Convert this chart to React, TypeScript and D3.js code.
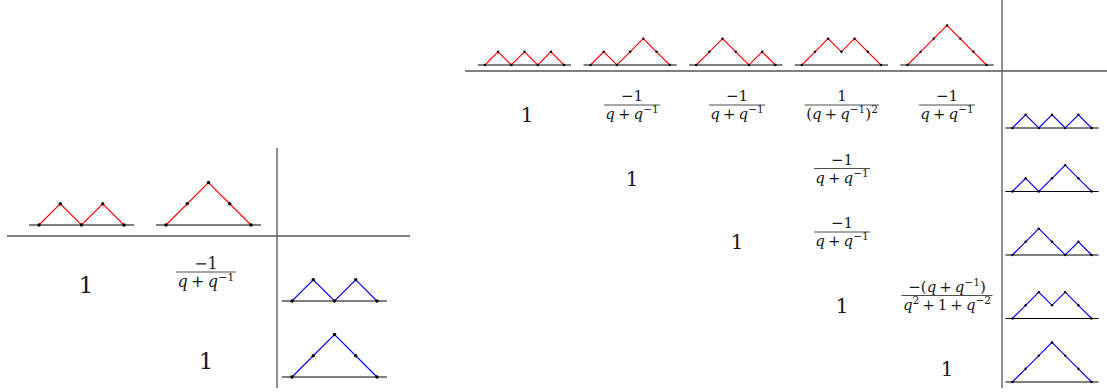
import React, { useLayoutEffect, useRef, useState } from 'react';
import * as d3 from 'd3';

// Dyck words (U = up step, D = down step)
const leftPaths = ['UDUD', 'UUDD'];
const rightPaths = ['UDUDUD', 'UDUUDD', 'UUDDUD', 'UUDUDD', 'UUUDDD'];

// matrix entries: '1', a fraction {num, den}, or null for empty
type Frac = { num: string; den: string };
type Entry = string | Frac | null;

const invQ: Frac = { num: '−1', den: 'q+q^{−1}' };
const invQ2: Frac = { num: '1', den: '(q+q^{−1})^{2}' };
const ratioQ: Frac = { num: '−(q+q^{−1})', den: 'q^{2}+1+q^{−2}' };

const leftEntries: Entry[][] = [
  ['1', invQ],
  [null, '1'],
];

const rightEntries: Entry[][] = [
  ['1', invQ, invQ, invQ2, invQ],
  [null, '1', null, invQ, null],
  [null, null, '1', invQ, null],
  [null, null, null, '1', ratioQ],
  [null, null, null, null, '1'],
];

const FONT = '"DejaVu Serif", "Liberation Serif", serif';

// "q+q^{-1}" -> tspans, superscripts raised, q in italic
const mathSpans = (src: string, size: number) => {
  const parts: { t: string; sup: boolean }[] = [];
  const re = /\^\{([^}]*)\}|[^^]+/g;
  let m;
  while ((m = re.exec(src)) !== null) {
    if (m[1] !== undefined) parts.push({ t: m[1], sup: true });
    else parts.push({ t: m[0], sup: false });
  }
  const supSize = size * 0.7;
  const rise = size * 0.38;
  const spans: React.ReactNode[] = [];
  let shifted = false;
  parts.forEach((p, i) => {
    const dy = p.sup ? -rise : shifted ? rise : 0;
    shifted = p.sup;
    const tokens = p.t.split(/(q)/).filter(s => s !== '');
    tokens.forEach((tok, j) => {
      const txt = tok.replace(/\+/g, p.sup ? '+' : '\u2009+\u2009');
      spans.push(
        <tspan
          key={i + '-' + j}
          dy={j === 0 ? dy : 0}
          fontSize={p.sup ? supSize : size}
          fontStyle={tok === 'q' ? 'italic' : 'normal'}
        >
          {txt}
        </tspan>
      );
    });
  });
  return spans;
};

const Fraction = ({ f, cx, bar, size, numGap, denGap }:
  { f: Frac; cx: number; bar: number; size: number; numGap: number; denGap: number }) => {
  const numRef = useRef<SVGTextElement>(null);
  const denRef = useRef<SVGTextElement>(null);
  const [half, setHalf] = useState(size * 2);
  useLayoutEffect(() => {
    const a = numRef.current ? numRef.current.getBBox().width : 0;
    const b = denRef.current ? denRef.current.getBBox().width : 0;
    setHalf(Math.max(a, b) / 2 + 1.5);
  }, [f, size]);
  return (
    <g>
      <text ref={numRef} x={cx} y={bar - numGap} textAnchor="middle" fontFamily={FONT} fontSize={size} fill="#1a1a1a">
        {mathSpans(f.num, size)}
      </text>
      <line x1={cx - half} x2={cx + half} y1={bar} y2={bar} stroke="#222" strokeWidth={0.8} />
      <text ref={denRef} x={cx} y={bar + denGap} textAnchor="middle" fontFamily={FONT} fontSize={size} fill="#1a1a1a">
        {mathSpans(f.den, size)}
      </text>
    </g>
  );
};

const DyckPath = ({ word, cx, baseY, unit, pad, color, r }:
  { word: string; cx: number; baseY: number; unit: number; pad: number; color: string; r: number }) => {
  const n = word.length;
  const pts: [number, number][] = [[0, 0]];
  let h = 0;
  word.split('').forEach((c, i) => {
    h += c === 'U' ? 1 : -1;
    pts.push([i + 1, h]);
  });
  const x = d3.scaleLinear().domain([0, n]).range([cx - (unit * n) / 2, cx + (unit * n) / 2]);
  const y = d3.scaleLinear().domain([0, 1]).range([baseY, baseY - unit]);
  const line = d3.line<[number, number]>().x(d => x(d[0])).y(d => y(d[1]));
  return (
    <g>
      <line x1={x(0) - pad} x2={x(n) + pad} y1={baseY} y2={baseY} stroke="#000" strokeWidth={1.2} />
      <path d={line(pts) || ''} fill="none" stroke={color} strokeWidth={1.1} />
      {pts.map((p, i) => (
        <circle key={i} cx={x(p[0])} cy={y(p[1])} r={r} fill="#000" />
      ))}
    </g>
  );
};

type MatrixOpts = {
  paths: string[];
  entries: Entry[][];
  headX: d3.ScaleLinear<number, number>;
  colX: d3.ScaleLinear<number, number>;
  rowY: d3.ScaleLinear<number, number>;
  headerY: number;
  labelX: number;
  unit: number;
  pad: number;
  r: number;
  oneSize: number;
  oneLift: number;
  fracSize: number;
  fracLift: number;
  numGap: number;
  denGap: number;
  hLine: [number, number, number];
  vLine: [number, number, number];
};

const Matrix = (o: MatrixOpts) => (
  <g>
    <line x1={o.hLine[0]} x2={o.hLine[1]} y1={o.hLine[2]} y2={o.hLine[2]} stroke="#555" strokeWidth={1.3} />
    <line x1={o.vLine[2]} x2={o.vLine[2]} y1={o.vLine[0]} y2={o.vLine[1]} stroke="#555" strokeWidth={1.3} />
    {o.paths.map((w, i) => (
      <DyckPath key={'h' + i} word={w} cx={o.headX(i)} baseY={o.headerY} unit={o.unit} pad={o.pad} color="#ff0000" r={o.r} />
    ))}
    {o.paths.map((w, i) => (
      <DyckPath key={'r' + i} word={w} cx={o.labelX} baseY={o.rowY(i)} unit={o.unit} pad={o.pad} color="#0000ff" r={o.r} />
    ))}
    {o.entries.map((row, i) =>
      row.map((e, j) => {
        if (e === null) return null;
        const cx = o.colX(j);
        const base = o.rowY(i);
        if (typeof e === 'string') {
          return (
            <text key={i + '-' + j} x={cx} y={base - o.oneLift} textAnchor="middle" fontFamily={FONT} fontSize={o.oneSize} fill="#1a1a1a">
              {e}
            </text>
          );
        }
        return (
          <Fraction key={i + '-' + j} f={e} cx={cx} bar={base - o.fracLift} size={o.fracSize} numGap={o.numGap} denGap={o.denGap} />
        );
      })
    )}
  </g>
);

export default function App() {
  const leftHead = d3.scaleLinear().domain([0, 1]).range([81.5, 208.5]);
  const leftCol = d3.scaleLinear().domain([0, 1]).range([86, 206]);
  const leftRow = d3.scaleLinear().domain([0, 1]).range([301, 377]);
  const rightHead = d3.scaleLinear().domain([0, 4]).range([524.5, 947]);
  const rightCol = d3.scaleLinear().domain([0, 4]).range([527, 947]);
  const rightRow = d3.scaleLinear().domain([0, 4]).range([128, 382]);

  return (
    <svg width={1107} height={392} style={{ position: 'absolute', left: 0, top: 0, background: '#fff' }}>
      <Matrix
        paths={leftPaths}
        entries={leftEntries}
        headX={leftHead}
        colX={leftCol}
        rowY={leftRow}
        headerY={225}
        labelX={334.5}
        unit={21.25}
        pad={10}
        r={1.7}
        oneSize={23}
        oneLift={8}
        fracSize={16}
        fracLift={29}
        numGap={3}
        denGap={15}
        hLine={[7, 410, 236]}
        vLine={[148, 388, 277]}
      />
      <Matrix
        paths={rightPaths}
        entries={rightEntries}
        headX={rightHead}
        colX={rightCol}
        rowY={rightRow}
        headerY={65}
        labelX={1052}
        unit={13.2}
        pad={7}
        r={1.2}
        oneSize={20}
        oneLift={6}
        fracSize={15}
        fracLift={23}
        numGap={4}
        denGap={14}
        hLine={[465, 1107, 71]}
        vLine={[0, 388, 1002]}
      />
    </svg>
  );
}
